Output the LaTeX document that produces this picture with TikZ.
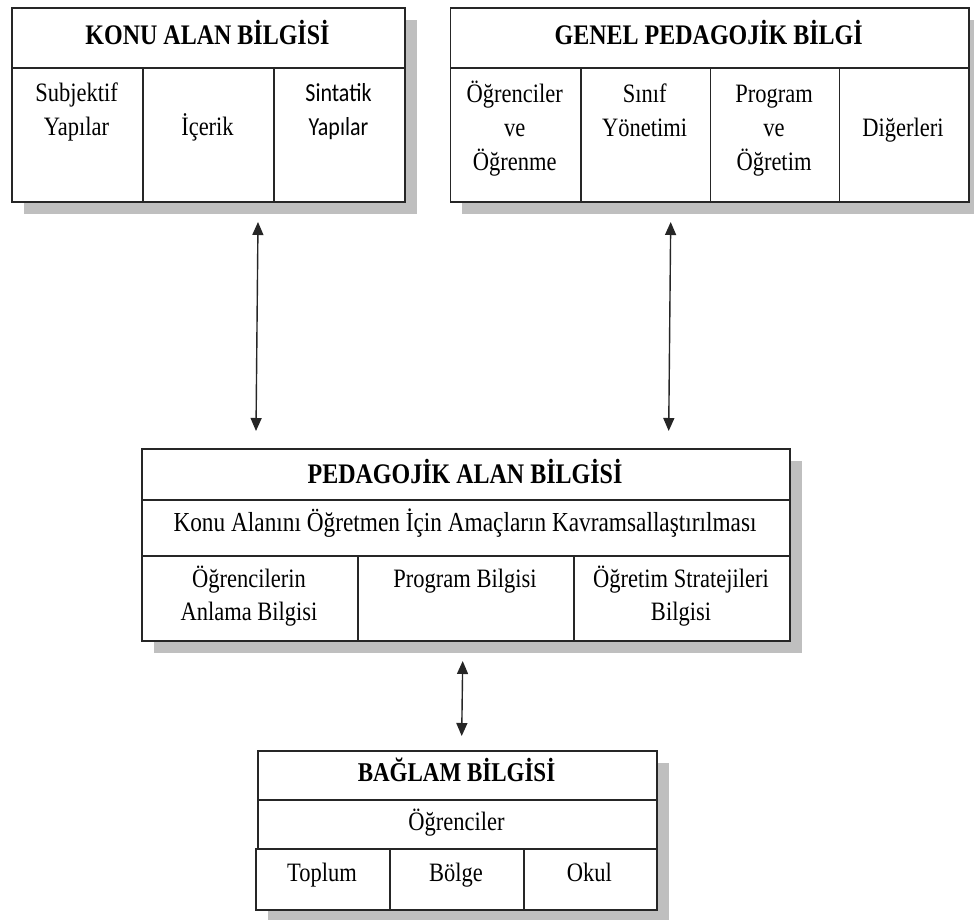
\documentclass[tikz,border=0pt]{standalone}
\usepackage{fontspec}
\setmainfont{Liberation Serif}
\newfontfamily\calfont{Carlito}
\usepackage{graphicx}
\usetikzlibrary{positioning,calc,arrows.meta}

% text is set a little taller than wide, as in the scan
\newcommand{\tall}[1]{\scalebox{1}[1.18]{\begin{tabular}[t]{@{}c@{}}#1\end{tabular}}}

\tikzset{
  cell/.style={draw=black!85, line width=1.8pt, fill=white, inner sep=0pt, anchor=north west},
  shade/.style={fill=black!25},
  head/.style={font=\fontsize{24}{28.8}\selectfont\bfseries, inner sep=0pt, anchor=base},
  txt/.style={font=\fontsize{22.5}{28.8}\selectfont, inner sep=0pt, anchor=base},
  link/.style={line width=1.4pt, draw=black!85, {Triangle[length=13pt,width=11pt]}-{Triangle[length=13pt,width=11pt]}},
}

\begin{document}
\begin{tikzpicture}[x=1pt, y=-1pt]
    \useasboundingbox (0,0) rectangle (974,920);

    % shadows
    \fill[shade] (23.5,20) rectangle (416.5,214);
    \fill[shade] (462,20) rectangle (980.5,214);
    \fill[shade] (153.5,461) rectangle (801.5,653);
    \fill[shade] (267.5,763) rectangle (668.5,922);

    % KONU ALAN BILGISI
    \node[cell, minimum width=393pt, minimum height=60pt] (kab) at (11,7) {};
    \node[cell, minimum width=131pt, minimum height=134pt] (kab1) at (11,67) {};
    \node[cell, minimum width=131pt, minimum height=134pt] (kab2) at (142,67) {};
    \node[cell, minimum width=131pt, minimum height=134pt] (kab3) at (273,67) {};
    \node[head] (kabt) at (207.5,45) {\tall{KONU ALAN BİLGİSİ}};
    \node[txt] (kabt1) at (76.5,102) {\tall{Subjektif\\Yapılar}};
    \node[txt] (kabt2) at (207.5,136) {\tall{İçerik}};
    \node[txt, font=\fontsize{22}{28.8}\selectfont\calfont] (kabt3) at (338.5,102) {\tall{Sintatik\\Yapılar}};

    % GENEL PEDAGOJIK BILGI
    \node[cell, minimum width=518.5pt, minimum height=60pt] (gpb) at (449.5,7) {};
    \node[cell, minimum width=130.5pt, minimum height=134pt] (gpb1) at (449.5,67) {};
    \node[cell, minimum width=129.5pt, minimum height=134pt] (gpb2) at (580,67) {};
    \node[cell, minimum width=129pt, minimum height=134pt] (gpb3) at (709.5,67) {};
    \node[cell, minimum width=129.5pt, minimum height=134pt] (gpb4) at (838.5,67) {};
    \node[head] (gpbt) at (708.7,45) {\tall{GENEL PEDAGOJİK BİLGİ}};
    \node[txt] (gpbt1) at (514.7,103) {\tall{Öğrenciler\\ve\\Öğrenme}};
    \node[txt] (gpbt2) at (644.7,103) {\tall{Sınıf\\Yönetimi}};
    \node[txt] (gpbt3) at (774,103) {\tall{Program\\ve\\Öğretim}};
    \node[txt] (gpbt4) at (903,137) {\tall{Diğerleri}};

    % PEDAGOJIK ALAN BILGISI
    \node[cell, minimum width=648pt, minimum height=51pt] (pab) at (141,448) {};
    \node[cell, minimum width=648pt, minimum height=56pt] (pabs) at (141,499) {};
    \node[cell, minimum width=216pt, minimum height=85pt] (pab1) at (141,555) {};
    \node[cell, minimum width=216pt, minimum height=85pt] (pab2) at (357,555) {};
    \node[cell, minimum width=216pt, minimum height=85pt] (pab3) at (573,555) {};
    \node[head] (pabt) at (465,483) {\tall{PEDAGOJİK ALAN BİLGİSİ}};
    \node[txt, font=\fontsize{23.3}{28.8}\selectfont] (pabst) at (465,531.5) {\tall{Konu Alanını Öğretmen İçin Amaçların Kavramsallaştırılması}};
    \node[txt] (pabt1) at (249,587) {\tall{Öğrencilerin\\Anlama Bilgisi}};
    \node[txt] (pabt2) at (465,587) {\tall{Program Bilgisi}};
    \node[txt] (pabt3) at (681,587) {\tall{Öğretim Stratejileri\\Bilgisi}};

    % BAGLAM BILGISI
    \node[cell, minimum width=399pt, minimum height=49pt] (bb) at (257,750) {};
    \node[cell, minimum width=399pt, minimum height=49.3pt] (bbs) at (257,799) {};
    \node[cell, minimum width=134.3pt, minimum height=61pt] (bb1) at (255,848.3) {};
    \node[cell, minimum width=133.4pt, minimum height=61pt] (bb2) at (389.3,848.3) {};
    \node[cell, minimum width=133.3pt, minimum height=61pt] (bb3) at (522.7,848.3) {};
    \node[head, font=\fontsize{23}{28.8}\selectfont\bfseries] (bbt) at (456.5,781.5) {\tall{BAĞLAM BİLGİSİ}};
    \node[txt] (bbst) at (456.5,830) {\tall{Öğrenciler}};
    \node[txt] (bbt1) at (322,881.5) {\tall{Toplum}};
    \node[txt] (bbt2) at (456,881.5) {\tall{Bölge}};
    \node[txt] (bbt3) at (589.3,881.5) {\tall{Okul}};

    % arrows
    \coordinate (l1) at (258,222);
    \coordinate (l2) at (256,431);
    \coordinate (r1) at (670.7,222);
    \coordinate (r2) at (668.7,431);
    \coordinate (m1) at (462.7,661);
    \coordinate (m2) at (461.7,736);
    \draw[link] (l1) -- (l2);
    \draw[link] (r1) -- (r2);
    \draw[link] (m1) -- (m2);
\end{tikzpicture}
\end{document}
